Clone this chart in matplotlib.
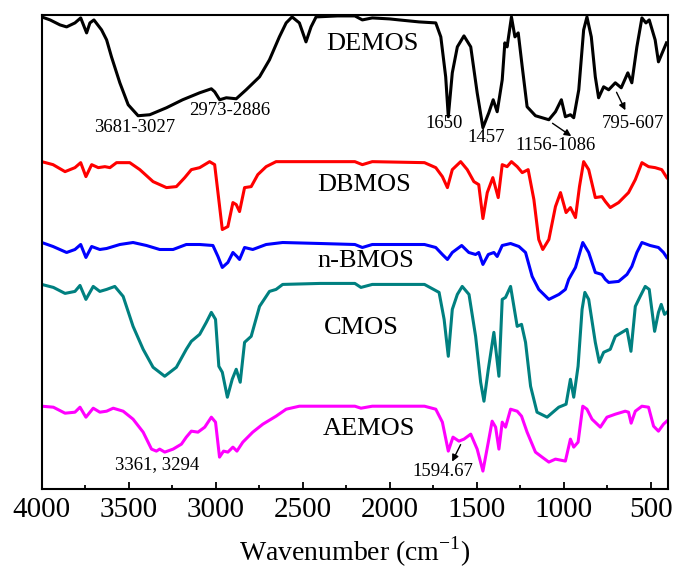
import matplotlib
matplotlib.use("Agg")
import matplotlib.pyplot as plt
from matplotlib.ticker import MultipleLocator

plt.rcParams['font.family'] = ['Liberation Serif', 'DejaVu Serif']
plt.rcParams['mathtext.fontset'] = 'custom'
plt.rcParams['mathtext.rm'] = 'Liberation Serif'

# spectra (wavenumber in cm-1, stacked transmittance in a.u.)
demos_wn = [4000, 3952, 3895, 3857, 3809, 3776, 3742, 3723, 3700, 3656, 3627, 3599, 3551, 3503, 3446,
            3379, 3283, 3190, 3092, 3025, 3006, 2977, 2939, 2882, 2825, 2748, 2691, 2634, 2595, 2561,
            2519, 2481, 2452, 2423, 2300, 2200, 2157, 2100, 2000, 1946, 1831, 1735, 1706, 1678, 1663,
            1640, 1611, 1573, 1534, 1497, 1464, 1430, 1405, 1382, 1353, 1338, 1325, 1300, 1280, 1261,
            1238, 1210, 1162, 1085, 1047, 1013, 990, 961, 942, 913, 885, 866, 841, 818, 799, 770, 741,
            703, 669, 631, 608, 579, 550, 527, 508, 474, 455, 426, 409]
demos_t = [473, 470, 465, 463, 467, 472, 457, 467, 470, 460, 450, 433, 407, 385, 374,
           375, 382, 390, 397, 401, 398, 390, 392, 391, 400, 413, 430, 453, 467, 473,
           467, 448, 463, 473, 474, 474, 470, 472, 471, 470, 468, 467, 453, 413, 373,
           417, 443, 454, 443, 397, 362, 377, 390, 378, 410, 447, 443, 473, 453, 457,
           423, 383, 374, 370, 378, 390, 373, 375, 372, 400, 460, 473, 453, 413, 392, 403, 400,
           407, 402, 417, 407, 443, 472, 467, 470, 450, 428, 440, 447]

dbmos_wn = [4000, 3935, 3866, 3809, 3776, 3746, 3713, 3675, 3637, 3608, 3570, 3494, 3436, 3360, 3283,
            3226, 3178, 3140, 3092, 3035, 3006, 2987, 2962, 2930, 2901, 2882, 2863, 2834, 2796, 2758,
            2710, 2653, 2400, 2200, 2157, 2100, 1800, 1735, 1697, 1668, 1640, 1592, 1554, 1516, 1488,
            1464, 1439, 1407, 1376, 1353, 1325, 1300, 1267, 1238, 1204, 1171, 1143, 1120, 1085, 1047,
            1018, 986, 961, 932, 909, 885, 856, 818, 780, 760, 732, 684, 627, 588, 550, 512, 474, 436, 407]
dbmos_t = [328, 325, 318, 322, 327, 313, 325, 322, 323, 322, 327, 327, 320, 308, 302,
           303, 312, 320, 322, 328, 325, 297, 260, 263, 287, 285, 278, 302, 303, 315,
           323, 328, 328, 328, 325, 328, 327, 322, 313, 302, 320, 328, 320, 308, 305,
           271, 297, 312, 292, 325, 323, 328, 323, 317, 320, 290, 250, 240, 250, 283,
           297, 277, 282, 272, 303, 328, 320, 292, 293, 288, 282, 287, 297, 310, 327, 323, 322, 320, 312]

nbmos_wn = [4000, 3935, 3857, 3809, 3776, 3746, 3713, 3666, 3627, 3589, 3551, 3475, 3398, 3322, 3245,
            3169, 3092, 3016, 2987, 2962, 2930, 2901, 2878, 2863, 2834, 2787, 2710, 2615, 2400, 2200,
            2157, 2100, 1800, 1735, 1697, 1668, 1640, 1586, 1545, 1506, 1488, 1464, 1433, 1401, 1382,
            1353, 1305, 1257, 1219, 1181, 1143, 1085, 1027, 990, 971, 932, 890, 856, 818, 780, 760,
            741, 684, 636, 608, 579, 550, 503, 455, 426, 407]
nbmos_t = [247, 243, 237, 240, 245, 232, 243, 240, 241, 243, 245, 247, 244, 240, 240,
           245, 245, 244, 233, 222, 227, 237, 233, 230, 242, 240, 245, 247, 246, 245,
           242, 245, 245, 242, 235, 230, 237, 244, 237, 235, 237, 225, 235, 237, 233,
           244, 246, 243, 237, 213, 200, 190, 195, 200, 210, 222, 247, 237, 217, 215, 210,
           207, 208, 215, 223, 237, 247, 244, 242, 237, 232]

cmos_wn = [4000, 3933, 3866, 3809, 3780, 3746, 3704, 3666, 3627, 3580, 3532, 3475, 3417, 3360, 3293,
           3226, 3169, 3140, 3092, 3054, 3025, 3001, 2982, 2962, 2933, 2905, 2882, 2859, 2834, 2796,
           2748, 2691, 2653, 2615, 2400, 2200, 2165, 2100, 1800, 1716, 1687, 1663, 1640, 1611, 1583,
           1544, 1506, 1477, 1458, 1433, 1401, 1372, 1353, 1334, 1305, 1286, 1267, 1242, 1219, 1190,
           1153, 1095, 1028, 986, 961, 942, 917, 894, 878, 856, 818, 795, 770, 732, 703, 655, 636,
           613, 588, 560, 531, 508, 477, 455, 439, 420, 407]
cmos_t = [205, 202, 196, 198, 204, 190, 203, 198, 200, 203, 193, 163, 140, 122, 113,
          122, 140, 148, 155, 167, 177, 170, 123, 117, 92, 110, 120, 107, 147, 153,
          183, 198, 200, 205, 206, 206, 202, 205, 205, 197, 170, 133, 180, 195, 203,
          195, 153, 107, 88, 120, 157, 113, 190, 192, 203, 183, 163, 165, 147, 103,
          77, 72, 82, 85, 110, 92, 123, 180, 197, 190, 147, 127, 137, 140, 153, 158, 160,
          138, 183, 193, 203, 200, 158, 177, 185, 175, 177]

aemos_wn = [4000, 3933, 3866, 3809, 3780, 3746, 3704, 3666, 3627, 3589, 3532, 3475, 3417, 3369, 3341,
            3322, 3293, 3245, 3197, 3169, 3140, 3102, 3063, 3025, 3001, 2978, 2955, 2930, 2901, 2878,
            2844, 2787, 2729, 2653, 2595, 2519, 2200, 2165, 2100, 1800, 1735, 1697, 1663, 1636, 1602,
            1573, 1534, 1497, 1464, 1433, 1411, 1391, 1372, 1353, 1334, 1305, 1267, 1242, 1210, 1162,
            1124, 1085, 1047, 990, 961, 942, 917, 890, 866, 837, 789, 751, 703, 646, 627, 612, 588,
            550, 512, 483, 455, 426, 407]
aemos_t = [83, 82, 76, 77, 82, 72, 81, 77, 78, 81, 78, 70, 57, 40, 38,
           40, 37, 40, 45, 52, 58, 57, 62, 72, 67, 32, 38, 37, 42, 38,
           47, 57, 65, 73, 80, 83, 83, 81, 83, 83, 80, 67, 38, 52, 48,
           50, 55, 40, 18, 47, 68, 62, 40, 67, 62, 80, 78, 73, 57, 37,
           32, 27, 30, 28, 50, 42, 47, 83, 80, 70, 62, 72, 75, 78, 77, 66, 78,
           83, 82, 63, 58, 65, 68]

names = ['DEMOS', 'DBMOS', 'n-BMOS', 'CMOS', 'AEMOS']
colors = ['black', 'red', 'blue', '#008080', 'magenta']
name_pos = [(2100, 446), (2146, 305), (2135, 228), (2163, 161), (2118, 60)]

fig = plt.figure(figsize=(6.73, 5.74), dpi=100)
ax = fig.add_axes([0.062, 0.148, 0.9306, 0.826])

series = [(demos_wn, demos_t), (dbmos_wn, dbmos_t), (nbmos_wn, nbmos_t),
          (cmos_wn, cmos_t), (aemos_wn, aemos_t)]
for (wn, t), c, nm, pos in zip(series, colors, names, name_pos):
    ax.plot(wn, t, color=c, lw=2.2, solid_joinstyle='round')
    ax.text(pos[0], pos[1], nm, fontsize=19, ha='center', va='center')

# peak annotations
small = 13.5
ax.text(3465, 362, '3681-3027', fontsize=small, ha='center', va='center')
ax.text(2920, 379, '2973-2886', fontsize=small, ha='center', va='center')
ax.text(1687, 366, '1650', fontsize=small, ha='center', va='center')
ax.text(1444, 352, '1457', fontsize=small, ha='center', va='center')
ax.text(1044, 344, '1156-1086', fontsize=small, ha='center', va='center')
ax.text(601, 366, '795-607', fontsize=small, ha='center', va='center')
ax.text(3339, 25, '3361, 3294', fontsize=small, ha='center', va='center')
ax.text(1693, 18, '1594.67', fontsize=small, ha='center', va='center')

arw = dict(arrowstyle='-|>', color='black', lw=1, mutation_scale=10)
ax.annotate('', xy=(943, 352), xytext=(1077, 368), arrowprops=arw)
ax.annotate('', xy=(638, 377), xytext=(703, 400), arrowprops=arw)
ax.annotate('', xy=(1648, 25), xytext=(1585, 47), arrowprops=arw)

ax.set_xlim(4000, 400)
ax.set_ylim(0, 475)
ax.xaxis.set_major_locator(MultipleLocator(500))
ax.xaxis.set_minor_locator(MultipleLocator(250))
ax.tick_params(axis='x', which='major', direction='in', length=5, width=1.3,
               labelsize=21, pad=6, top=False)
ax.tick_params(axis='x', which='minor', direction='in', length=3, width=1.3, top=False)
ax.set_yticks([])
for s in ax.spines.values():
    s.set_linewidth(1.5)
ax.set_xlabel('Wavenumber (cm$^{\\mathregular{-1}}$)', fontsize=20, labelpad=8)

fig.savefig('out.png', dpi=100)
